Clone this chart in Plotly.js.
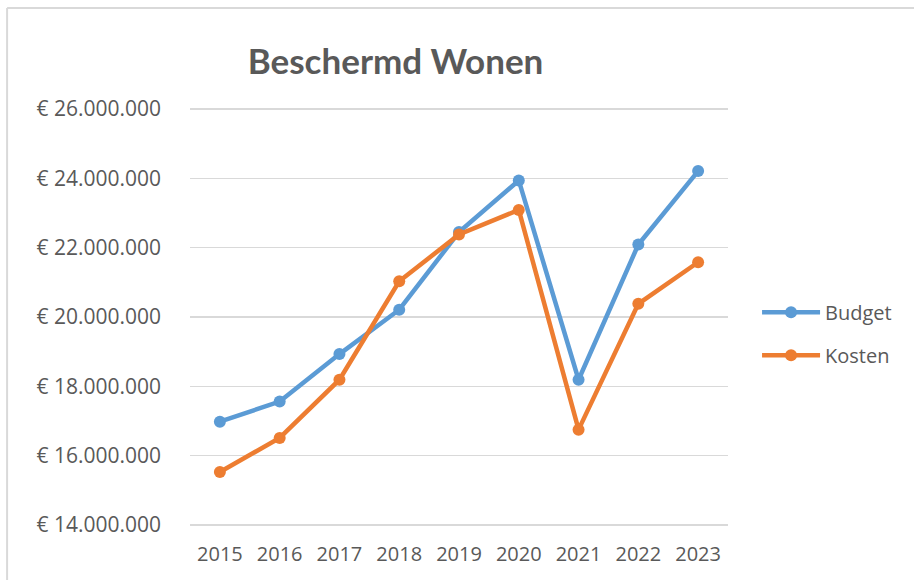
<!DOCTYPE html>
<html>
<head>
<meta charset="utf-8">
<script src="https://cdn.plot.ly/plotly-3.0.1.min.js"></script>
<style>html,body{margin:0;padding:0;background:#fff;}#chart{width:914px;height:580px;}</style>
</head>
<body>
<div id="chart"></div>
<script>
var years = ['2015', '2016', '2017', '2018', '2019', '2020', '2021', '2022', '2023'];
var budget = [16980000, 17560000, 18930000, 20210000, 22450000, 23940000, 18190000, 22090000, 24210000];
var kosten = [15530000, 16510000, 18190000, 21030000, 22380000, 23090000, 16750000, 20380000, 21580000];
var seriesNames = ['Budget', 'Kosten'];
var chartTitle = 'Beschermd Wonen';

var txt = '#595959';
var grid = '#d9d9d9';

var traces = [
  {x: years, y: budget, name: seriesNames[0], type: 'scatter', mode: 'lines+markers',
   line: {color: '#5B9BD5', width: 4.5}, marker: {color: '#5B9BD5', size: 12}, legendgroup: 'a'},
  {x: years, y: kosten, name: seriesNames[1], type: 'scatter', mode: 'lines+markers',
   line: {color: '#ED7D31', width: 4.5}, marker: {color: '#ED7D31', size: 12}, legendgroup: 'b'}
];

var layout = {
  width: 914, height: 580,
  margin: {l: 190, r: 186, t: 108, b: 54, pad: 0, autoexpand: false},
  paper_bgcolor: '#fff', plot_bgcolor: '#fff',
  separators: ',.',
  hovermode: false,
  title: {text: '<b>' + chartTitle + '</b>', font: {family: 'Lato', size: 35, color: txt},
          xref: 'paper', x: 0.382, xanchor: 'center', yref: 'container', y: 0.893, yanchor: 'middle'},
  xaxis: {type: 'category', range: [-0.5, 8.5], showgrid: false, zeroline: false, showline: false,
          ticks: '', tickfont: {family: 'Open Sans', size: 20, color: txt}, ticklabelstandoff: 14},
  yaxis: {range: [13970000, 26030000], dtick: 2000000, tick0: 0, tickprefix: '€ ', tickformat: ',d',
          showgrid: true, gridcolor: grid, gridwidth: 1.5, zeroline: false, showline: false, ticks: '',
          tickfont: {family: 'Open Sans', size: 21, color: txt}, ticklabelstandoff: 28},
  showlegend: true,
  legend: {x: 1.054, xanchor: 'left', y: 0.46, yanchor: 'middle', traceorder: 'grouped', tracegroupgap: 14,
           itemwidth: 58, font: {family: 'Open Sans', size: 20, color: txt}, bgcolor: 'rgba(0,0,0,0)'},
  shapes: [
    {type: 'line', xref: 'paper', yref: 'paper', x0: -0.340, x1: -0.340, y0: -0.2, y1: 1.239,
     line: {color: grid, width: 2}},
    {type: 'line', xref: 'paper', yref: 'paper', x0: -0.340, x1: 1.4, y0: 1.239, y1: 1.239,
     line: {color: grid, width: 2}}
  ]
};

Plotly.newPlot('chart', traces, layout, {displayModeBar: false, staticPlot: true});
</script>
</body>
</html>
